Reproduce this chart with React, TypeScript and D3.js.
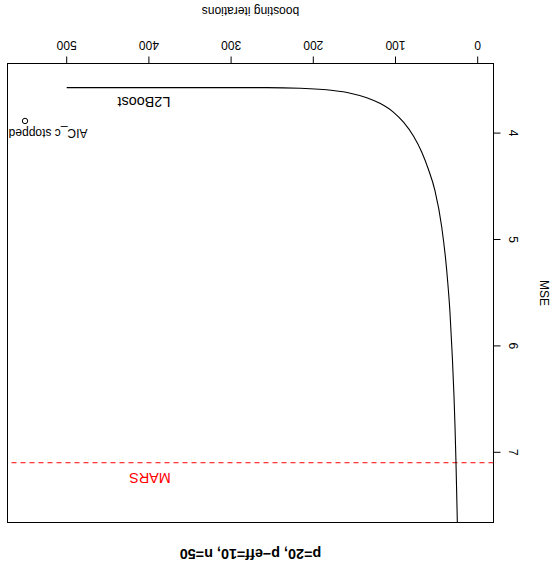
import React from 'react';
import * as d3 from 'd3';

// L2Boost MSE path vs boosting iterations
const iterations = [24.5, 26.4, 27.6, 28.8, 30.9, 33.7, 37.7, 43.8, 52, 60, 68, 78, 90, 103, 119, 135, 155, 176, 216, 257, 338, 420, 500];
const mseValues = [7.75, 7.1, 6.76, 6.48, 6.1, 5.69, 5.29, 4.88, 4.54, 4.34, 4.18, 4.03, 3.9, 3.8, 3.72, 3.667, 3.625, 3.6, 3.579, 3.573, 3.573, 3.573, 3.573];

const xTicks = [0, 100, 200, 300, 400, 500];
const yTicks = [4, 5, 6, 7];

const marsMse = 7.098;
const aicIter = 550.7;
const aicMse = 3.886;

const title = 'p=20, p\u2212eff=10, n=50';
const xLabel = 'boosting iterations';
const yLabel = 'MSE';

const W = 554;
const H = 564;
const FONT = '"Liberation Sans", Arial, Helvetica, sans-serif';

export default function App() {
  // plot region in the un-rotated frame; the whole thing is turned 180deg at the end
  const box = { left: 60.5, right: 546.5, top: 41.5, bottom: 500.5 };

  const x = d3.scaleLinear().domain([0, 500]).range([76.3, 487.3]);
  const y = d3.scaleLinear().domain([4, 7]).range([430.9, 111.7]);

  const pts = iterations.map((it, i) => [it, mseValues[i]] as [number, number]);
  const line = d3.line<[number, number]>()
    .x(d => x(d[0]))
    .y(d => y(d[1]))
    .curve(d3.curveMonotoneX);

  const tickLen = 7;

  return (
    <svg width={W} height={H} style={{ position: 'absolute', left: 0, top: 0, background: '#fff' }}
      fontFamily={FONT}>
      <defs>
        <clipPath id="plotClip">
          <rect x={box.left} y={box.top} width={box.right - box.left} height={box.bottom - box.top} />
        </clipPath>
      </defs>
      <rect width={W} height={H} fill="#fff" />
      <g transform={`rotate(180 ${W / 2} ${H / 2})`}>
        {/* title */}
        <text x={(box.left + box.right) / 2} y={15.5} textAnchor="middle" fontWeight="bold" fontSize={14.4}>
          {title}
        </text>

        {/* MARS reference */}
        <line x1={box.left} x2={box.right} y1={y(marsMse)} y2={y(marsMse)}
          stroke="#ff0000" strokeDasharray="5,4" />
        <text x={x(398.7)} y={y(7.195)} textAnchor="middle" fontSize={14.4} fill="#ff0000">MARS</text>

        {/* L2Boost curve */}
        <path d={line(pts) || ''} fill="none" stroke="#000" strokeWidth={1.1} clipPath="url(#plotClip)" />
        <text x={x(406)} y={y(3.708) + 5.1} textAnchor="middle" fontSize={14.4}>L2Boost</text>

        {/* AIC_c stopped point */}
        <circle cx={x(aicIter)} cy={y(aicMse)} r={2.7} fill="none" stroke="#000" strokeWidth={1} />
        <text x={x(522.7)} y={y(3.965)} textAnchor="middle" fontSize={12}>AIC_c stopped</text>

        {/* box */}
        <rect x={box.left} y={box.top} width={box.right - box.left} height={box.bottom - box.top}
          fill="none" stroke="#000" strokeWidth={1} />

        {/* x axis */}
        <line x1={x(0)} x2={x(500)} y1={box.bottom} y2={box.bottom} stroke="#000" />
        {xTicks.map(t => (
          <g key={'x' + t}>
            <line x1={x(t)} x2={x(t)} y1={box.bottom} y2={box.bottom + tickLen} stroke="#000" />
            <text x={x(t)} y={523} textAnchor="middle" fontSize={12}>{t}</text>
          </g>
        ))}
        <text x={(box.left + box.right) / 2} y={557} textAnchor="middle" fontSize={12}>{xLabel}</text>

        {/* y axis */}
        <line x1={box.left} x2={box.left} y1={y(4)} y2={y(7)} stroke="#000" />
        {yTicks.map(t => (
          <g key={'y' + t}>
            <line x1={box.left - tickLen} x2={box.left} y1={y(t)} y2={y(t)} stroke="#000" />
            <text transform={`translate(45.3,${y(t)}) rotate(-90)`} textAnchor="middle" fontSize={12}>{t}</text>
          </g>
        ))}
        <text transform={`translate(14.3,${(box.top + box.bottom) / 2}) rotate(-90)`} textAnchor="middle" fontSize={12}>
          {yLabel}
        </text>
      </g>
    </svg>
  );
}
